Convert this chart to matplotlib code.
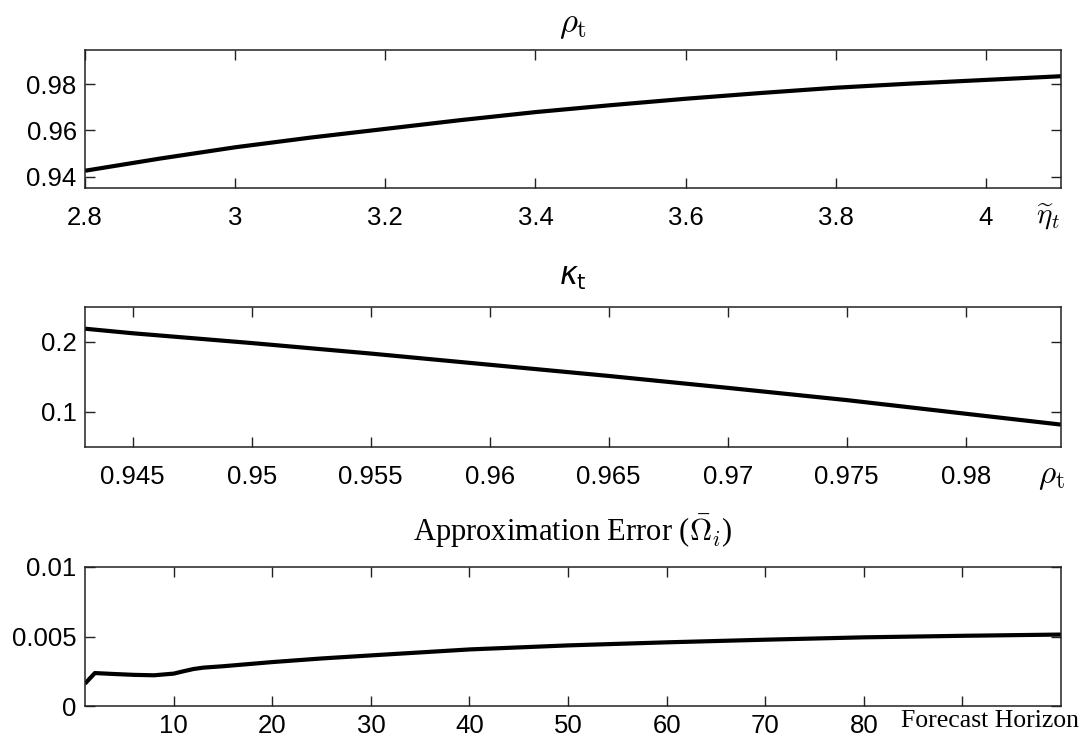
import matplotlib
matplotlib.use("Agg")
import matplotlib.pyplot as plt
import numpy as np

# --- data ------------------------------------------------------------------
eta = [2.8, 2.9, 3.0, 3.1, 3.2, 3.3, 3.4, 3.5, 3.6, 3.7, 3.8, 3.9, 4.0, 4.1]
rho = [0.9425, 0.9478, 0.9527, 0.9569, 0.9607, 0.9645, 0.9680, 0.9710, 0.9738,
       0.9763, 0.9786, 0.9804, 0.9820, 0.9836]

rho_k = [0.943, 0.945, 0.950, 0.955, 0.960, 0.965, 0.970, 0.975, 0.980, 0.984]
kappa = [0.219, 0.2125, 0.1985, 0.1835, 0.1675, 0.1515, 0.1345, 0.1170, 0.0975, 0.082]

horizon = [1, 2, 4, 6, 8, 10, 11, 12, 13, 15, 20, 25, 30, 40, 50, 60, 70, 80, 90, 100]
err = [0.00161, 0.00237, 0.00230, 0.00224, 0.00221, 0.00233, 0.00250, 0.00266, 0.00276,
       0.00286, 0.00316, 0.00342, 0.00364, 0.00407, 0.00436, 0.00458, 0.00477, 0.00494,
       0.00505, 0.00514]

plt.rcParams["font.family"] = ["Liberation Sans", "DejaVu Sans"]
FS = 18.5
LW = 3.0
SERIF = ["Liberation Serif", "DejaVu Serif"]

fig = plt.figure(figsize=(10.88, 7.46), dpi=100)
L, W = 85 / 1088, 976 / 1088
ax1 = fig.add_axes([L, 1 - 188 / 746, W, 138 / 746])
ax2 = fig.add_axes([L, 1 - 447 / 746, W, 140 / 746])
ax3 = fig.add_axes([L, 1 - 706 / 746, W, 139 / 746])


def style(ax, xpad):
    ax.tick_params(direction="in", length=7, width=1.0, top=True, right=True,
                   labelsize=FS, color="#222222")
    ax.tick_params(axis="x", pad=xpad)
    ax.tick_params(axis="y", pad=6)
    for s in ax.spines.values():
        s.set_linewidth(1.1)
        s.set_color("#222222")


# panel 1: rho_t vs eta_t
ax1.plot(eta, rho, color="black", lw=LW, solid_capstyle="butt")
ax1.set_xlim(2.8, 4.1)
ax1.set_ylim(0.935, 0.995)
ax1.set_xticks([2.8, 3.0, 3.2, 3.4, 3.6, 3.8, 4.0])
ax1.set_xticklabels(["2.8", "3", "3.2", "3.4", "3.6", "3.8", "4"])
ax1.set_yticks([0.94, 0.96, 0.98])
ax1.set_yticklabels(["0.94", "0.96", "0.98"])
style(ax1, 13)
ax1.set_title(r"$\rho_{\mathrm{t}}$", fontsize=25, pad=13, math_fontfamily="cm")
ax1.annotate(r"$\widetilde{\eta}_t$", xy=(1, 0), xycoords="axes fraction",
             xytext=(-9, -21), textcoords="offset points", ha="center", va="center",
             fontsize=21, math_fontfamily="cm")

# panel 2: kappa_t vs rho_t
ax2.plot(rho_k, kappa, color="black", lw=LW, solid_capstyle="butt")
ax2.set_xlim(0.943, 0.984)
ax2.set_ylim(0.05, 0.25)
ax2.set_xticks([0.945, 0.95, 0.955, 0.96, 0.965, 0.97, 0.975, 0.98])
ax2.set_xticklabels(["0.945", "0.95", "0.955", "0.96", "0.965", "0.97", "0.975", "0.98"])
ax2.set_yticks([0.1, 0.2])
ax2.set_yticklabels(["0.1", "0.2"])
style(ax2, 13)
ax2.set_title(r"$\kappa_{\mathrm{t}}$", fontsize=22, pad=16, math_fontfamily="dejavusans")
ax2.annotate(r"$\rho_{\mathrm{t}}$", xy=(1, 0), xycoords="axes fraction",
             xytext=(-7, -21), textcoords="offset points", ha="center", va="center",
             fontsize=24, math_fontfamily="cm")

# panel 3: approximation error vs forecast horizon
ax3.plot(horizon, err, color="black", lw=LW, solid_capstyle="butt")
ax3.set_xlim(1, 100)
ax3.set_ylim(0, 0.01)
ax3.set_xticks([10, 20, 30, 40, 50, 60, 70, 80, 90])
ax3.set_xticklabels(["10", "20", "30", "40", "50", "60", "70", "80", ""])
ax3.set_yticks([0, 0.005, 0.01])
ax3.set_yticklabels(["0", "0.005", "0.01"])
style(ax3, 6)
ax3.set_title(r"Approximation Error ($\bar{\Omega}_i$)", fontsize=22, pad=19,
              family=SERIF, math_fontfamily="cm")
ax3.annotate("Forecast Horizon", xy=(1, 0), xycoords="axes fraction",
             xytext=(13, -11), textcoords="offset points", ha="right", va="center",
             fontsize=18.5, family=SERIF)

fig.savefig("out.png", dpi=100)
